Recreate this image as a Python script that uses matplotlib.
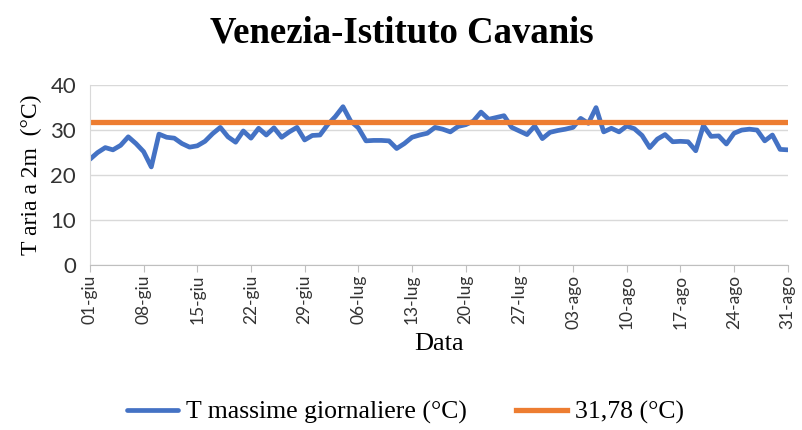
import numpy as np
import matplotlib
matplotlib.use('Agg')
import matplotlib.pyplot as plt

# temperature massime giornaliere, 01-giu .. 31-ago
t_max = [23.5, 25.0, 26.1, 25.6, 26.6, 28.5, 27.0, 25.2, 21.8, 29.1,
         28.4, 28.2, 27.0, 26.2, 26.5, 27.5, 29.2, 30.6, 28.5, 27.3,
         29.8, 28.2, 30.4, 28.9, 30.5, 28.4, 29.6, 30.6, 27.8, 28.8,
         28.9, 31.2, 33.0, 35.2, 32.0, 30.5, 27.6, 27.7, 27.7, 27.6,
         25.9, 27.0, 28.4, 28.9, 29.3, 30.6, 30.2, 29.6, 30.8, 31.2,
         32.0, 34.0, 32.4, 32.8, 33.2, 30.6, 29.8, 29.0, 30.9, 28.1,
         29.5, 29.9, 30.2, 30.6, 32.6, 31.5, 35.0, 29.6, 30.4, 29.6,
         30.9, 30.3, 28.8, 26.1, 28.0, 29.0, 27.4, 27.5, 27.4, 25.4,
         31.0, 28.6, 28.7, 26.9, 29.3, 30.0, 30.2, 30.0, 27.6, 28.9,
         25.7, 25.6]
media = 31.78
tick_days = [0, 7, 14, 21, 28, 35, 42, 49, 56, 63, 70, 77, 84, 91]
tick_labels = ['01-giu', '08-giu', '15-giu', '22-giu', '29-giu', '06-lug', '13-lug',
               '20-lug', '27-lug', '03-ago', '10-ago', '17-ago', '24-ago', '31-ago']

serif = 'Liberation Serif'
sans = 'Lato'

fig = plt.figure(figsize=(8.03, 4.30), dpi=100)
ax = fig.add_axes([0.112, 0.384, 0.869, 0.418])

days = np.arange(len(t_max))
ax.plot(days, t_max, color='#4472C4', lw=3.4, solid_capstyle='round',
        solid_joinstyle='round', label='T massime giornaliere (°C)')
ax.axhline(media, color='#ED7D31', lw=3.8, label='31,78 (°C)')

ax.set_xlim(0, 91)
ax.set_ylim(0, 40)
ax.set_yticks([0, 10, 20, 30, 40])
ax.set_xticks(tick_days)
ax.set_xticklabels(tick_labels, rotation=90, fontsize=12.5, family=sans, color='#333333')
for lab in ax.get_yticklabels():
    lab.set_fontsize(16)
    lab.set_family(sans)
    lab.set_color('#333333')

ax.grid(axis='y', color='#D9D9D9', lw=1)
ax.set_axisbelow(True)
for s in ['top', 'right']:
    ax.spines[s].set_visible(False)
ax.spines['left'].set_color('#D9D9D9')
ax.spines['bottom'].set_color('#BFBFBF')
ax.tick_params(axis='y', length=0, pad=10)
ax.tick_params(axis='x', length=5, color='#BFBFBF', pad=2)

ax.set_ylabel('T aria a 2m  (°C)', family=serif, fontsize=17, labelpad=6)
ax.set_xlabel('Data', family=serif, fontsize=19, labelpad=3)
fig.suptitle('Venezia-Istituto Cavanis', family=serif, fontweight='bold',
             fontsize=26.5, y=0.965)

fig.legend(loc='lower center', bbox_to_anchor=(0.505, -0.04), ncol=2, frameon=False,
           prop={'family': serif, 'size': 18.5}, handlelength=2.0, handletextpad=0.3,
           columnspacing=1.9)

fig.savefig('out.png', dpi=100)
